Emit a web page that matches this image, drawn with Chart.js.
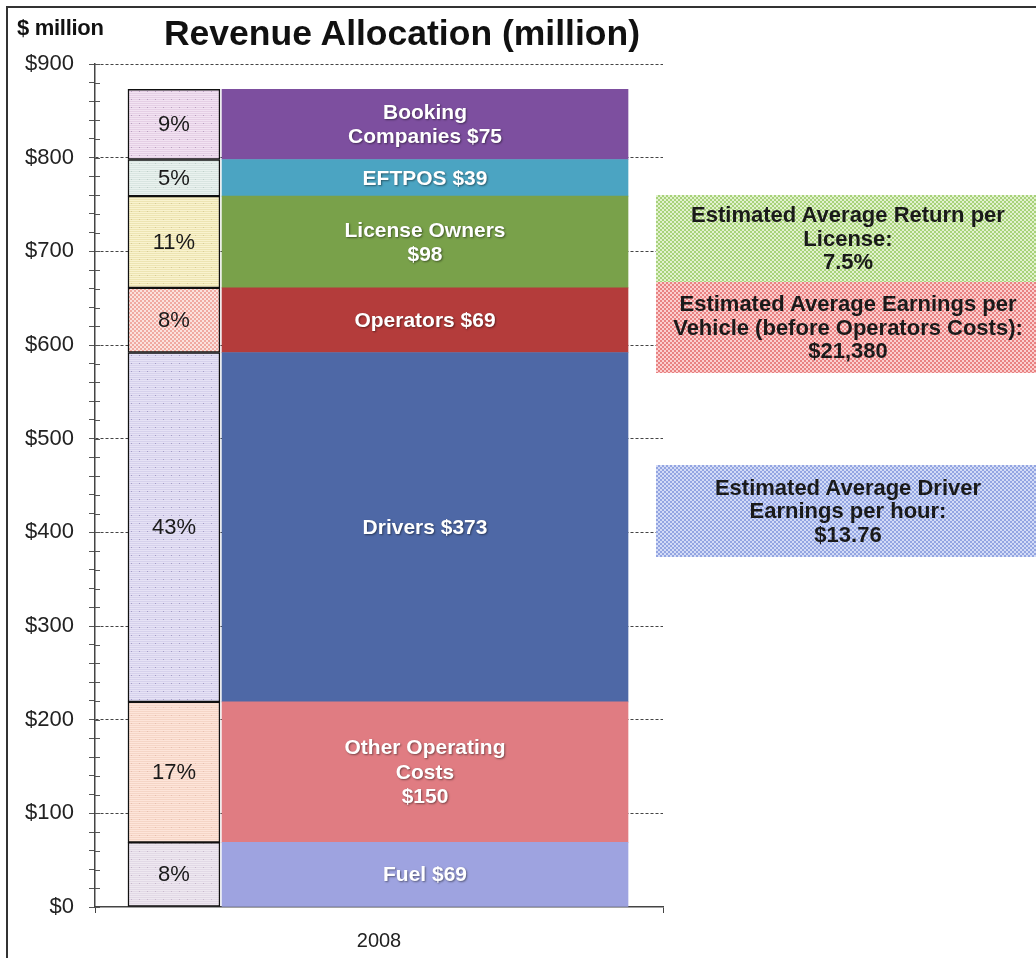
<!DOCTYPE html>
<html>
<head>
<meta charset="utf-8">
<title>Revenue Allocation (million)</title>
<script src="https://cdn.jsdelivr.net/npm/chart.js@4/dist/chart.umd.min.js"></script>
<style>
  html, body { margin: 0; padding: 0; background: #fff; }
  body { width: 1036px; height: 958px; position: relative; overflow: hidden;
         font-family: "Liberation Sans", Arial, sans-serif; }
  #chart { position: absolute; left: 0; top: 0; }
  .frame { position: absolute; left: 6px; top: 6px; width: 1100px; height: 1100px;
           border-left: 2px solid #333; border-top: 2px solid #333; }
  .title { position: absolute; left: 0; width: 804px; top: 13px; text-align: center;
           font-size: 35.5px; font-weight: bold; color: #111; }
  .unit { position: absolute; left: 17px; top: 15px; font-size: 22px; font-weight: bold;
          color: #111; letter-spacing: -0.3px; }
  .note { position: absolute; left: 656px; width: 384px; display: flex; align-items: center;
          justify-content: center; text-align: center; font-size: 22px; line-height: 23.5px;
          font-weight: bold; color: #1a1a1a; }
</style>
</head>
<body>
<div class="frame"></div>
<canvas id="chart" width="1036" height="958"></canvas>
<div class="unit">$ million</div>
<div class="title">Revenue Allocation (million)</div>
<div id="notes"></div>
<script>
'use strict';

// ── Данные (снизу вверх) ─────────────────────────────
const categories = ['2008'];
const segments   = ['Fuel', 'Other Operating\nCosts', 'Drivers', 'Operators', 'License Owners', 'EFTPOS', 'Booking\nCompanies'];
const values     = [69, 150, 373, 69, 98, 39, 75];
const shares     = [8, 17, 43, 8, 11, 5, 9];
const valueBreak = [' ', '\n', ' ', ' ', '\n', ' ', ' '];
const yMin = 0, yMax = 900, yMajor = 100, yMinor = 20;

const noteTexts = [
  'Estimated Average Return per\nLicense:\n7.5%',
  'Estimated Average Earnings per\nVehicle (before Operators Costs):\n$21,380',
  'Estimated Average Driver\nEarnings per hour:\n$13.76',
];

// ── Стили ────────────────────────────────────────────
const FONT = '"Liberation Sans", Arial, sans-serif';
const barColors = ['#9ea3e0', '#e07c82', '#4e68a6', '#b43c3b', '#79a14a', '#4ba4c2', '#7d4f9f'];
const shareFills = [
  ['#eee8f0', '#e2d9e6', '#c8b8cc'],
  ['#fde5da', '#f5d5c6', '#e8c0b0'],
  ['#e6e2f5', '#d6d1ec', '#a49cc6'],
  ['#fbe2de', '#f0aaa2', '#e89088'],
  ['#f9f3cf', '#ede4b2', '#d8cc98'],
  ['#eaf2ef', '#d9e5e1', '#c0d0ca'],
  ['#f2e3f2', '#e5cfe5', '#b9a0c0'],
];
const noteBoxes = [
  { top: 195, height: 87, a: '#a8d27a', b: '#e2f2cf' },
  { top: 282, height: 91, a: '#e88282', b: '#fbcfcf' },
  { top: 465, height: 92, a: '#93a5e2', b: '#d3dbf6' },
];

// мелкая штриховка для узкой колонки с процентами
function makePattern(base, line, dot, checker) {
  const c = document.createElement('canvas');
  c.width = 8; c.height = 8;
  const g = c.getContext('2d');
  g.fillStyle = base;
  g.fillRect(0, 0, 8, 8);
  if (checker) {
    g.fillStyle = line;
    for (let y = 0; y < 8; y += 2)
      for (let x = (y / 2) % 2 * 2; x < 8; x += 4) g.fillRect(x, y, 2, 2);
  } else {
    g.fillStyle = line;
    for (let y = 1; y < 8; y += 2) g.fillRect(0, y, 8, 1);
    g.fillStyle = dot;
    g.fillRect(3, 3, 1, 1);
  }
  return g.createPattern(c, 'repeat');
}

// ── Подписи на сегментах ─────────────────────────────
const segmentLabels = {
  id: 'segmentLabels',
  afterDatasetsDraw(chart) {
    const ctx = chart.ctx;
    chart.data.datasets.forEach((ds, i) => {
      const el = chart.getDatasetMeta(i).data[0];
      if (!el) return;
      const lines = ds.labelText.split('\n');
      const cy = (el.y + el.base) / 2;
      const lh = 24.5;
      ctx.save();
      ctx.textAlign = 'center';
      ctx.textBaseline = 'middle';
      if (ds.kind === 'share') {
        ctx.font = '22px ' + FONT;
        ctx.fillStyle = '#1a1a1a';
      } else {
        ctx.font = 'bold 21px ' + FONT;
        ctx.fillStyle = '#ffffff';
        ctx.shadowColor = 'rgba(0,0,0,0.45)';
        ctx.shadowBlur = 2;
        ctx.shadowOffsetX = 1;
        ctx.shadowOffsetY = 1;
      }
      lines.forEach((t, k) => {
        ctx.fillText(t, el.x, cy + 1 + (k - (lines.length - 1) / 2) * lh);
      });
      ctx.restore();
    });
  },
};

// засечки справа от оси Y
const innerTicks = {
  id: 'innerTicks',
  afterDraw(chart) {
    const y = chart.scales.y;
    const ctx = chart.ctx;
    ctx.save();
    ctx.strokeStyle = '#555';
    ctx.lineWidth = 1;
    y.ticks.forEach((t) => {
      const py = Math.round(y.getPixelForValue(t.value)) + 0.5;
      ctx.beginPath();
      ctx.moveTo(y.right, py);
      ctx.lineTo(y.right + 5, py);
      ctx.stroke();
    });
    ctx.restore();
  },
};

const shareCenter = 13.9, valueCenter = 58.1;

const datasets = [];
segments.forEach((name, i) => {
  const f = shareFills[i];
  datasets.push({
    kind: 'share',
    label: name.replace('\n', ' ') + ' %',
    labelText: shares[i] + '%',
    data: [{ x: shareCenter, y: values[i] }],
    xAxisID: 'xb',
    stack: 'share',
    grouped: false,
    barThickness: 92,
    backgroundColor: makePattern(f[0], f[1], f[2], i === 3),
    borderColor: '#111',
    borderWidth: 1.5,
    borderSkipped: false,
  });
});
segments.forEach((name, i) => {
  datasets.push({
    kind: 'value',
    label: name.replace('\n', ' '),
    labelText: name + valueBreak[i] + '$' + values[i],
    data: [{ x: valueCenter, y: values[i] }],
    xAxisID: 'xb',
    stack: 'value',
    grouped: false,
    barThickness: 406,
    backgroundColor: barColors[i],
    borderWidth: 0,
  });
});

new Chart(document.getElementById('chart'), {
  type: 'bar',
  data: { datasets },
  plugins: [segmentLabels, innerTicks],
  options: {
    responsive: false,
    animation: false,
    layout: { padding: { top: 64, right: 373, bottom: 0, left: 0 } },
    plugins: { legend: { display: false }, tooltip: { enabled: false }, title: { display: false } },
    scales: {
      x: {
        type: 'category',
        labels: categories,
        offset: true,
        afterFit(s) { s.height = 51; },
        grid: { offset: true, drawOnChartArea: false, tickLength: 6, color: '#444' },
        border: { color: '#444', width: 1.5 },
        ticks: { color: '#222', font: { family: FONT, size: 20 }, padding: 16 },
      },
      xb: { type: 'linear', display: false, offset: false, grace: 0, min: 0, max: 100 },
      y: {
        stacked: true,
        min: yMin,
        max: yMax,
        afterFit(s) { s.width = 95; },
        ticks: {
          stepSize: yMinor,
          autoSkip: false,
          color: '#222',
          padding: 15,
          font: { family: FONT, size: 22 },
          callback: (v) => (v % yMajor === 0 ? '$' + v : ''),
        },
        grid: {
          color: (c) => (c.tick && c.tick.value % yMajor === 0 && c.tick.value > 0 ? '#444' : 'rgba(0,0,0,0)'),
          tickColor: '#555',
          tickLength: 6,
          lineWidth: 1,
        },
        border: { color: '#444', width: 1.5, dash: [3, 2] },
      },
    },
  },
});

// ── Пояснения справа ─────────────────────────────────
const notesEl = document.getElementById('notes');
noteTexts.forEach((txt, i) => {
  const b = noteBoxes[i];
  const d = document.createElement('div');
  d.className = 'note';
  d.style.top = b.top + 'px';
  d.style.height = b.height + 'px';
  d.style.background = `repeating-conic-gradient(${b.a} 0 25%, ${b.b} 0 50%) 0 0 / 4px 4px`;
  d.innerHTML = txt.split('\n').join('<br>');
  notesEl.appendChild(d);
});
</script>
</body>
</html>
